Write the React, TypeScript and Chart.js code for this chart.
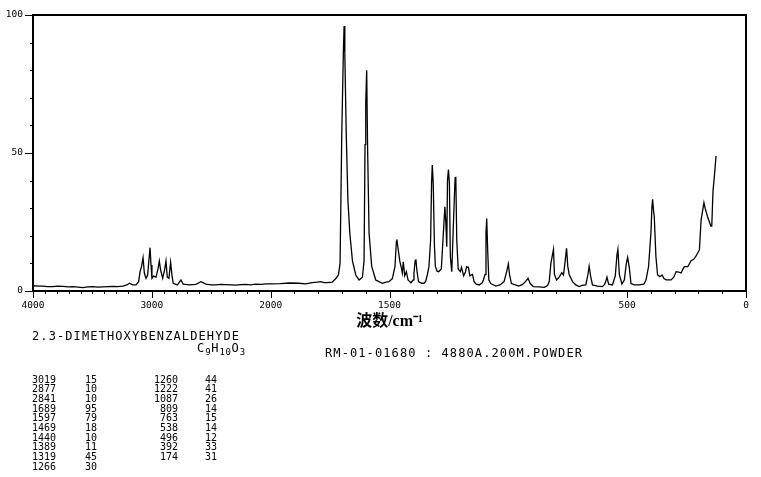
import React, { useEffect, useRef } from "react";
import { Chart, registerables } from "chart.js";

Chart.register(...registerables);

// Raman spectrum (wavenumber in cm-1, relative intensity)
const wavenumbers = [
  4000, 3950, 3916, 3880, 3832, 3790, 3748, 3700, 3664, 3620, 3581, 3540, 3497, 3455, 3413, 3370, 3329, 3290, 3245, 3210,
  3189, 3161, 3133, 3111, 3099, 3086, 3074, 3063, 3049, 3035, 3027, 3015, 3007, 2999, 2985, 2965, 2948, 2937, 2926, 2909,
  2893, 2881, 2870, 2856, 2842, 2831, 2820, 2784, 2755, 2736, 2685, 2629, 2587, 2545, 2500, 2461, 2420, 2378, 2330, 2294,
  2250, 2210, 2170, 2126, 2080, 2040, 2000, 1960, 1920, 1881, 1853, 1825, 1805, 1789, 1775, 1762, 1741, 1726, 1715, 1708,
  1701, 1694, 1691, 1688, 1682, 1675, 1667, 1656, 1642, 1628, 1614, 1607, 1603, 1600, 1596, 1592, 1586, 1575, 1558, 1540,
  1530, 1515, 1502, 1488, 1477, 1471, 1469, 1464, 1457, 1450, 1446, 1442, 1436, 1429, 1422, 1410, 1400, 1397, 1392, 1389,
  1385, 1378, 1365, 1355, 1348, 1341, 1334, 1327, 1323, 1320, 1316, 1311, 1307, 1300, 1293, 1282, 1275, 1267, 1263, 1259,
  1256, 1252, 1248, 1244, 1238, 1230, 1224, 1221, 1217, 1211, 1202, 1197, 1188, 1180, 1176, 1172, 1168, 1162, 1151, 1144,
  1135, 1123, 1110, 1105, 1098, 1094, 1091, 1087, 1082, 1074, 1053, 1035, 1018, 1007, 1000, 995, 987, 970, 956, 940,
  928, 917, 908, 895, 870, 849, 835, 828, 821, 810, 806, 797, 786, 775, 768, 762, 755, 750, 744, 730,
  716, 702, 690, 674, 665, 660, 654, 646, 625, 604, 595, 590, 585, 578, 562, 550, 543, 539, 533, 522,
  512, 503, 498, 491, 484, 470, 450, 430, 421, 410, 405, 400, 396, 393, 389, 386, 379, 372, 362, 353,
  345, 336, 325, 315, 304, 294, 283, 273, 265, 259, 245, 231, 220, 210, 196, 189, 177, 172, 162, 148,
  144, 139, 132, 126,
];
const intensities = [
  1.9, 1.8, 1.8, 1.6, 1.6, 1.8, 1.7, 1.5, 1.6, 1.4, 1.2, 1.5, 1.6, 1.4, 1.5, 1.6, 1.7, 1.6, 1.8, 2.2,
  2.8, 2.2, 2.2, 3.4, 7, 9, 12.1, 6.5, 4.6, 5.8, 10, 15.7, 9.4, 4.6, 5.4, 5, 8, 10.9, 7.6, 4.6,
  7.6, 10.9, 5, 4.6, 10.4, 5.8, 2.8, 2.2, 4, 2.5, 2.2, 2.4, 3.4, 2.5, 2.2, 2.2, 2.4, 2.3, 2.2, 2.1,
  2.3, 2.4, 2.2, 2.5, 2.4, 2.6, 2.6, 2.7, 2.9, 2.8, 2.6, 3.0, 3.2, 3.4, 3.0, 3.0, 3.2, 4.5, 5.8, 10,
  56, 87, 96, 86, 57, 33, 21, 11, 5.8, 4, 5, 11, 53, 68, 80, 51, 21, 9, 4, 3.2,
  2.8, 3.2, 3.4, 4.5, 8.8, 18, 18.7, 15.5, 11, 8.3, 6.5, 10.6, 5.5, 7, 4, 3, 4, 6.5, 11, 11.5,
  7.6, 3.4, 2.8, 2.8, 3.5, 5.8, 8.8, 18.5, 39, 45.6, 39, 16.6, 9, 7.2, 7, 8, 18.5, 30.5, 25, 16,
  40, 44, 39, 12.4, 7, 27, 41, 41.4, 18.5, 8, 7, 8.6, 5.5, 7, 8.8, 8.6, 8.6, 5.5, 6, 3.4,
  2.5, 2.2, 3, 4, 6, 21, 26.3, 15, 4, 2.7, 1.8, 2.2, 3.4, 7, 9.8, 6, 2.7, 2.2, 1.8, 2.4,
  3.4, 4.6, 2.7, 1.6, 1.5, 1.3, 2, 3.4, 10, 15.1, 6, 4, 5, 6.6, 5.8, 10, 15.5, 9, 6, 3.4,
  2.2, 1.6, 2, 2.2, 6, 9, 5.5, 2.2, 1.8, 1.6, 2.4, 3.4, 5, 2.5, 2.2, 5.5, 13, 15.1, 6, 2.5,
  4, 10.3, 12.2, 8.5, 2.7, 2.2, 2.2, 2.5, 3.9, 8.8, 15, 21, 30, 33.2, 29, 27, 12.4, 5.8, 5.2, 5.8,
  4.5, 4, 4, 4, 5, 7, 6.8, 6.5, 8, 8.8, 8.8, 11, 11.5, 12.7, 14.9, 25.7, 32, 30, 27, 23.5,
  23.5, 36, 42.6, 48.9,
];

const xTickLabels = [4000, 3000, 2000, 1500, 500, 0];
const yTickLabels = [0, 50, 100];

const compoundName = "2.3-DIMETHOXYBENZALDEHYDE";
const sampleInfo = "RM-01-01680 : 4880A.200M.POWDER";
const axisTitle = "波数/cm⁻¹";

const peakWaveA = [3019, 2877, 2841, 1689, 1597, 1469, 1440, 1389, 1319, 1266];
const peakIntA = [15, 10, 10, 95, 79, 18, 10, 11, 45, 30];
const peakWaveB = [1260, 1222, 1087, 809, 763, 538, 496, 392, 174];
const peakIntB = [44, 41, 26, 14, 15, 14, 12, 33, 31];

// piecewise-linear wavenumber axis (scale doubles below 2000 cm-1)
function toU(w: number) {
  return w >= 2000 ? (4000 - w) / 1000 : 2 + (2000 - w) / 500;
}
function fromU(u: number) {
  return u <= 2 ? 4000 - u * 1000 : 2000 - (u - 2) * 500;
}

const MONO = "'DejaVu Sans Mono', monospace";

const framePlugin = {
  id: "frameTicks",
  afterDraw(chart: any) {
    const { ctx, chartArea: a, scales } = chart;
    const xs = scales.x;
    const ys = scales.y;
    ctx.save();
    ctx.strokeStyle = "#000";
    ctx.lineWidth = 2;
    ctx.strokeRect(a.left, a.top, a.right - a.left, a.bottom - a.top);
    ctx.lineWidth = 1;
    ctx.beginPath();
    for (let w = 4000; w >= 0; w -= 100) {
      const px = Math.round(xs.getPixelForValue(toU(w))) + 0.5;
      const major = xTickLabels.includes(w);
      ctx.moveTo(px, a.bottom);
      ctx.lineTo(px, a.bottom + (major ? 7 : 3));
    }
    for (let v = 0; v <= 100; v += 10) {
      const py = Math.round(ys.getPixelForValue(v)) + 0.5;
      const major = yTickLabels.includes(v);
      ctx.moveTo(a.left, py);
      ctx.lineTo(a.left - (major ? 8 : 3), py);
    }
    ctx.stroke();
    ctx.restore();
  },
};

function SpectrumChart() {
  const ref = useRef<HTMLCanvasElement | null>(null);
  useEffect(() => {
    if (!ref.current) return;
    const points = wavenumbers.map((w, i) => ({ x: toU(w), y: intensities[i] }));
    const chart = new Chart(ref.current, {
      type: "line",
      data: {
        datasets: [
          {
            data: points,
            borderColor: "#000",
            borderWidth: 1.3,
            pointRadius: 0,
            tension: 0,
            fill: false,
          },
        ],
      },
      options: {
        responsive: false,
        maintainAspectRatio: false,
        animation: false,
        layout: { padding: { left: 0, top: 15, right: 15, bottom: 141 } },
        plugins: { legend: { display: false }, tooltip: { enabled: false } },
        scales: {
          x: {
            type: "linear",
            min: 0,
            max: 6,
            afterBuildTicks: (s: any) => {
              s.ticks = xTickLabels.map((w) => ({ value: toU(w) }));
            },
            afterFit: (s: any) => {
              s.height = 45;
            },
            ticks: {
              autoSkip: false,
              maxRotation: 0,
              padding: 1,
              color: "#000",
              font: { family: MONO, size: 9.5 },
              callback: (v: any) => String(Math.round(fromU(Number(v)))),
            },
            grid: { display: true, drawOnChartArea: false, color: "rgba(0,0,0,0)", tickLength: 8 },
            border: { display: false },
            title: {
              display: true,
              text: axisTitle,
              color: "#000",
              font: { family: "'Liberation Serif', 'Noto Sans CJK SC', serif", size: 16, weight: "bold" },
              padding: { top: 0, bottom: 5 },
            },
          },
          y: {
            type: "linear",
            min: 0,
            max: 100,
            afterBuildTicks: (s: any) => {
              s.ticks = yTickLabels.map((v) => ({ value: v }));
            },
            afterFit: (s: any) => {
              s.width = 33;
            },
            ticks: {
              padding: 2,
              color: "#000",
              font: { family: MONO, size: 9.5 },
            },
            grid: { display: true, drawOnChartArea: false, color: "rgba(0,0,0,0)", tickLength: 8 },
            border: { display: false },
          },
        },
      },
      plugins: [framePlugin],
    } as any);
    return () => chart.destroy();
  }, []);
  return <canvas ref={ref} width={761} height={477} style={{ display: "block", width: 761, height: 477 }} />;
}

const big: React.CSSProperties = {
  position: "absolute",
  fontFamily: MONO,
  fontSize: 12,
  lineHeight: "12px",
  letterSpacing: "1.1px",
  color: "#000",
  whiteSpace: "pre",
};

const small: React.CSSProperties = {
  position: "absolute",
  fontFamily: MONO,
  fontSize: 10,
  lineHeight: "9.7px",
  color: "#000",
  whiteSpace: "pre",
};

export default function App() {
  return (
    <div style={{ position: "absolute", left: 0, top: 0, width: 761, height: 477, background: "#fff", overflow: "hidden" }}>
      <SpectrumChart />
      <div style={{ ...big, left: 32, top: 330 }}>{compoundName}</div>
      <div style={{ ...big, left: 197, top: 342 }}>
        C<span style={{ fontSize: 9, position: "relative", top: 3, letterSpacing: "0.5px" }}>9</span>H
        <span style={{ fontSize: 9, position: "relative", top: 3, letterSpacing: "0.5px" }}>10</span>O
        <span style={{ fontSize: 9, position: "relative", top: 3 }}>3</span>
      </div>
      <div style={{ ...big, left: 325, top: 347 }}>{sampleInfo}</div>
      <div style={{ ...small, left: 32, top: 374.5 }}>
        {peakWaveA.map((w, i) => (
          <div key={i}>{String(w)}</div>
        ))}
      </div>
      <div style={{ ...small, left: 85, top: 374.5 }}>
        {peakIntA.map((v, i) => (
          <div key={i}>{String(v)}</div>
        ))}
      </div>
      <div style={{ ...small, left: 140, width: 38, textAlign: "right", top: 374.5 }}>
        {peakWaveB.map((w, i) => (
          <div key={i}>{String(w)}</div>
        ))}
      </div>
      <div style={{ ...small, left: 205, top: 374.5 }}>
        {peakIntB.map((v, i) => (
          <div key={i}>{String(v)}</div>
        ))}
      </div>
    </div>
  );
}
